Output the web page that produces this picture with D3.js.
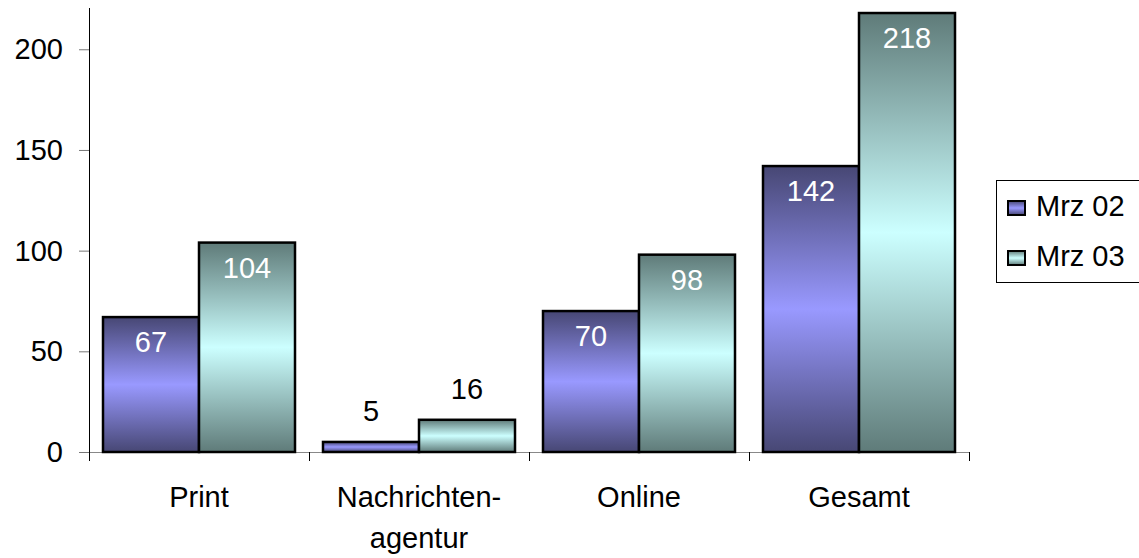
<!DOCTYPE html>
<html>
<head>
<meta charset="utf-8">
<script src="https://cdn.jsdelivr.net/npm/d3@7"></script>
<style>
  body { margin: 0; background: #fff; }
  svg { font-family: "Liberation Sans", Arial, sans-serif; }
</style>
</head>
<body>
<svg id="chart" width="1139" height="558"></svg>
<script>
// data
var categories = [["Print"], ["Nachrichten-", "agentur"], ["Online"], ["Gesamt"]];
var seriesNames = ["Mrz 02", "Mrz 03"];
var mrz02 = [67, 5, 70, 142];
var mrz03 = [104, 16, 98, 218];
var yTicks = [0, 50, 100, 150, 200];

var series = [mrz02, mrz03];
var darkCol = ["#474774", "#5f7b79"];
var lightCol = ["#9999ff", "#ccffff"];
var fs = 29;

var svg = d3.select("#chart");

// gradients, dark at top and bottom, light in the middle
var defs = svg.append("defs");
seriesNames.forEach(function(n, i){
  var g = defs.append("linearGradient").attr("id", "grad" + i)
     .attr("x1", 0).attr("y1", 0).attr("x2", 0).attr("y2", 1);
  g.append("stop").attr("offset", "0%").attr("stop-color", darkCol[i]);
  g.append("stop").attr("offset", "50%").attr("stop-color", lightCol[i]);
  g.append("stop").attr("offset", "100%").attr("stop-color", darkCol[i]);
});

var x = d3.scaleBand().domain(d3.range(categories.length)).range([89, 969]);
var y = d3.scaleLinear().domain([0, 220]).range([452, 9]);
var inner = d3.scaleBand().domain([0, 1]).range([14, x.bandwidth() - 14]);

// y axis
svg.append("line").attr("x1", 89.5).attr("x2", 89.5).attr("y1", 8).attr("y2", 461)
   .attr("stroke", "#000").attr("stroke-width", 1);
svg.selectAll(".ytick").data(yTicks).enter().append("line")
   .attr("x1", 79).attr("x2", 89)
   .attr("y1", function(d){ return y(d) + 0.5; }).attr("y2", function(d){ return y(d) + 0.5; })
   .attr("stroke", "#777");
svg.selectAll(".ylab").data(yTicks).enter().append("text")
   .attr("x", 63).attr("y", function(d){ return y(d) + 10; })
   .attr("text-anchor", "end").attr("font-size", fs).text(function(d){ return d; });

// x axis
svg.append("line").attr("x1", 89).attr("x2", 969).attr("y1", y(0) + 0.5).attr("y2", y(0) + 0.5)
   .attr("stroke", "#888");
svg.selectAll(".xtick").data(d3.range(categories.length + 1)).enter().append("line")
   .attr("x1", function(d){ return 89 + d * x.bandwidth() + 0.5; })
   .attr("x2", function(d){ return 89 + d * x.bandwidth() + 0.5; })
   .attr("y1", y(0)).attr("y2", y(0) + 9)
   .attr("stroke", "#000");

categories.forEach(function(lines, i){
  var t = svg.append("text").attr("text-anchor", "middle").attr("font-size", fs)
     .attr("x", x(i) + x.bandwidth() / 2).attr("y", 507);
  lines.forEach(function(l, j){
    t.append("tspan").attr("x", x(i) + x.bandwidth() / 2).attr("dy", j === 0 ? 0 : 41).text(l);
  });
});

// bars
series.forEach(function(vals, s){
  var g = svg.append("g");
  g.selectAll("rect").data(vals).enter().append("rect")
   .attr("x", function(d, i){ return x(i) + inner(s); })
   .attr("width", inner.bandwidth())
   .attr("y", function(d){ return y(d); })
   .attr("height", function(d){ return y(0) - y(d); })
   .attr("fill", "url(#grad" + s + ")")
   .attr("stroke", "#000").attr("stroke-width", 2.5);
  g.selectAll("text").data(vals).enter().append("text")
   .attr("x", function(d, i){ return x(i) + inner(s) + inner.bandwidth() / 2; })
   .attr("y", function(d){ return (y(0) - y(d)) > 60 ? y(d) + 35 : y(d) - 21; })
   .attr("text-anchor", "middle").attr("font-size", fs)
   .attr("fill", function(d){ return (y(0) - y(d)) > 60 ? "#fff" : "#000"; })
   .text(function(d){ return d; });
});

// legend
var lg = svg.append("g");
lg.append("rect").attr("x", 996.5).attr("y", 180.5).attr("width", 160).attr("height", 102)
  .attr("fill", "#fff").attr("stroke", "#000");
seriesNames.forEach(function(n, i){
  var yy = 201 + i * 50;
  lg.append("rect").attr("x", 1008).attr("y", yy).attr("width", 17).attr("height", 14)
    .attr("fill", "url(#grad" + i + ")").attr("stroke", "#000").attr("stroke-width", 2);
  lg.append("text").attr("x", 1036).attr("y", yy + 15).attr("font-size", fs).text(n);
});
</script>
</body>
</html>
